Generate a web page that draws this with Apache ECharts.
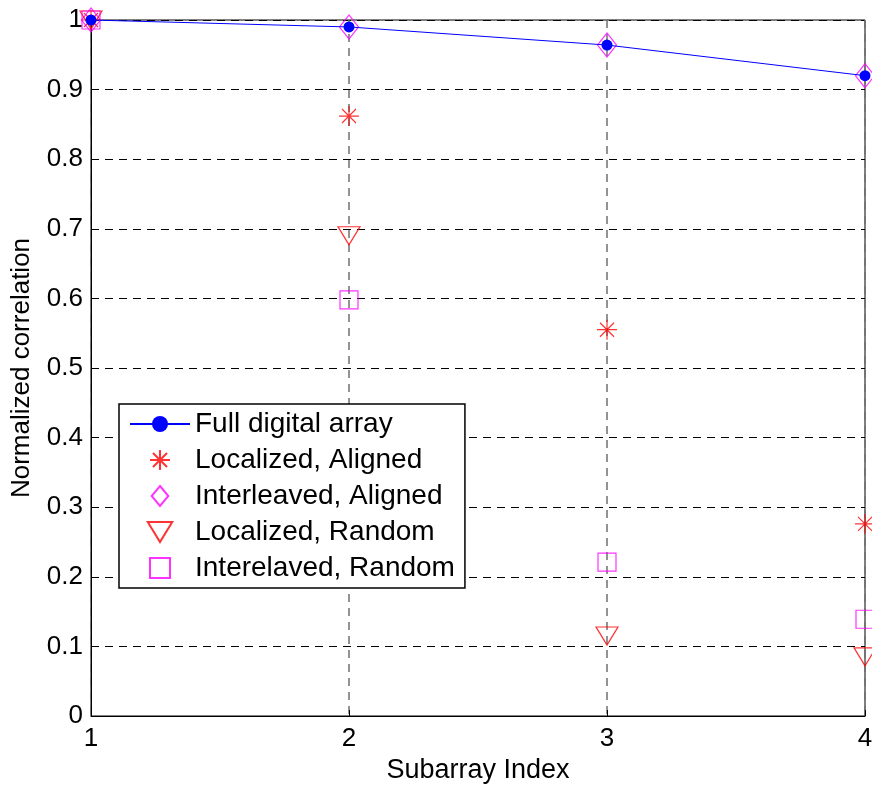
<!DOCTYPE html>
<html><head><meta charset="utf-8">
<script src="https://cdn.jsdelivr.net/npm/echarts@6/dist/echarts.min.js"></script>
<style>html,body{margin:0;padding:0;background:#fff}#c{width:872px;height:789px}</style>
</head><body><div id="c"></div>
<script>
const subarrayIndex = [1, 2, 3, 4];
const fullDigital = [1.0, 0.990, 0.964, 0.920];
const localizedAligned = [1.0, 0.862, 0.555, 0.276];
const interleavedAligned = [1.0, 0.990, 0.964, 0.920];
const localizedRandom = [1.0, 0.690, 0.115, 0.085];
const interleavedRandom = [1.0, 0.598, 0.221, 0.139];
const yTicks = [0, 0.1, 0.2, 0.3, 0.4, 0.5, 0.6, 0.7, 0.8, 0.9, 1];
const seriesNames = ['Full digital array', 'Localized, Aligned', 'Interleaved, Aligned', 'Localized, Random', 'Interelaved, Random'];

const pairs = arr => subarrayIndex.map((x, i) => [x, arr[i]]);
const FONT = 'Liberation Sans, Arial, sans-serif';
const asterisk = 'path://M10,0L10,20M0,10L20,10M3,3L17,17M3,17L17,3';
const triDown = 'path://M0,0L22,0L11,18Z';
const diamond = 'path://M10,0L20,12L10,24L0,12Z';
const square = 'path://M0,0L18,0L18,18L0,18Z';

const chart = echarts.init(document.getElementById('c'), null, {renderer: 'canvas'});
chart.setOption({
  animation: false,
  backgroundColor: '#fff',
  grid: {left: 91, right: 7, top: 20, bottom: 73, show: true, borderColor: '#000', borderWidth: 1,
         containLabel: false, outerBoundsMode: 'none'},
  legend: {
    orient: 'vertical', left: 119, top: 404,
    padding: [6, 10, 6, 10], itemGap: 8, itemWidth: 60, itemHeight: 20,
    backgroundColor: '#fff', borderColor: '#000', borderWidth: 1.5, borderRadius: 0,
    textStyle: {fontFamily: FONT, fontSize: 28, color: '#000'},
    data: seriesNames
  },
  xAxis: {
    type: 'value', min: 1, max: 4, interval: 1,
    name: 'Subarray Index', nameLocation: 'middle', nameGap: 40,
    nameTextStyle: {fontFamily: FONT, fontSize: 27, color: '#000'},
    axisLine: {lineStyle: {color: '#000', width: 1}},
    axisTick: {inside: true, length: 6, lineStyle: {color: '#000'}},
    axisLabel: {fontFamily: FONT, fontSize: 26, color: '#000', margin: 10},
    splitLine: {show: true, lineStyle: {color: '#707070', width: 1.5, type: [8, 6]}}
  },
  yAxis: {
    type: 'value', min: 0, max: 1, interval: 0.1,
    name: 'Normalized correlation', nameLocation: 'middle', nameGap: 56,
    nameTextStyle: {fontFamily: FONT, fontSize: 26, color: '#000'},
    axisLine: {show: true, lineStyle: {color: '#000', width: 1}},
    axisTick: {show: true, inside: true, length: 6, lineStyle: {color: '#000'}},
    axisLabel: {fontFamily: FONT, fontSize: 26, color: '#000', margin: 8,
      formatter: v => { const t = yTicks.find(k => Math.abs(k - v) < 1e-9); return t === undefined ? '' : String(t); }},
    splitLine: {show: true, lineStyle: {color: '#000', width: 1, type: [8, 6]}}
  },
  series: [
    {name: seriesNames[0], type: 'line', data: pairs(fullDigital), symbol: 'circle', symbolSize: 11,
     lineStyle: {color: '#0000ff', width: 1}, itemStyle: {color: '#0000ff'}, silent: true, z: 5},
    {name: seriesNames[1], type: 'scatter', data: pairs(localizedAligned), symbol: asterisk, symbolSize: 20,
     itemStyle: {color: 'rgba(0,0,0,0)', borderColor: '#ff0000', borderWidth: 1.2}, silent: true, z: 4},
    {name: seriesNames[2], type: 'scatter', data: pairs(interleavedAligned), symbol: diamond, symbolSize: [19, 24],
     itemStyle: {color: 'rgba(0,0,0,0)', borderColor: '#ff00ff', borderWidth: 1.2}, silent: true, z: 4},
    {name: seriesNames[3], type: 'scatter', data: pairs(localizedRandom), symbol: triDown, symbolSize: [22, 18],
     itemStyle: {color: 'rgba(0,0,0,0)', borderColor: '#ff0000', borderWidth: 1.2}, silent: true, z: 4},
    {name: seriesNames[4], type: 'scatter', data: pairs(interleavedRandom), symbol: square, symbolSize: 18,
     itemStyle: {color: 'rgba(0,0,0,0)', borderColor: '#ff00ff', borderWidth: 1.2}, silent: true, z: 4}
  ]
});
</script></body></html>
